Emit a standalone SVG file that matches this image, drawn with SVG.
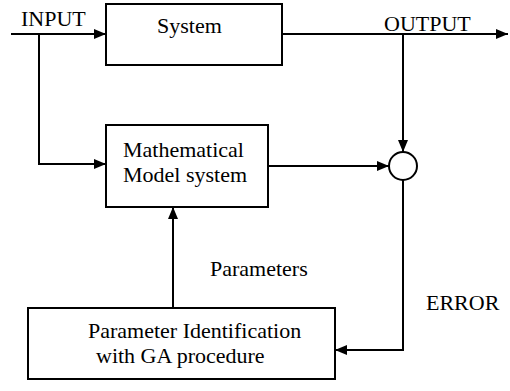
<svg xmlns="http://www.w3.org/2000/svg" width="510" height="391" viewBox="0 0 510 391">
<style>
.box{fill:#fff;stroke:#000;stroke-width:2}
.ln{fill:none;stroke:#000;stroke-width:2}
.t{font-family:'Liberation Serif','Times New Roman',serif;font-size:22px;fill:#000}
</style>
<defs>
<marker id="ah" viewBox="0 0 12 10" refX="12" refY="5" markerWidth="12" markerHeight="10" markerUnits="userSpaceOnUse" orient="auto">
<path d="M0,0 L12,5 L0,10 Z" fill="#000"/>
</marker>
</defs>
<rect width="510" height="391" fill="#fff"/>
<g id="connectors">
<path class="ln" d="M11,34 H106" marker-end="url(#ah)"/>
<path class="ln" d="M39,34 V164 H106" marker-end="url(#ah)"/>
<path class="ln" d="M282,34 H508" marker-end="url(#ah)"/>
<path class="ln" d="M403,34 V152" marker-end="url(#ah)"/>
<path class="ln" d="M268,166 H389" marker-end="url(#ah)"/>
<path class="ln" d="M403,180 V350 H335" marker-end="url(#ah)"/>
<path class="ln" d="M173,308 V207" marker-end="url(#ah)"/>
</g>
<g id="system">
<rect class="box" x="106" y="4" width="176" height="61"/>
<text class="t" x="157" y="33">System</text>
</g>
<g id="model">
<rect class="box" x="106" y="125" width="162" height="82"/>
<text class="t" x="123" y="157">Mathematical</text>
<text class="t" x="123" y="182">Model system</text>
</g>
<g id="sum">
<circle class="box" cx="403" cy="166" r="14"/>
</g>
<g id="ga">
<rect class="box" x="28" y="308" width="307" height="71"/>
<text class="t" x="88" y="338">Parameter Identification</text>
<text class="t" x="96" y="363">with GA procedure</text>
</g>
<g id="labels">
<text class="t" x="21" y="26">INPUT</text>
<text class="t" x="384" y="31">OUTPUT</text>
<text class="t" x="210" y="276">Parameters</text>
<text class="t" x="426" y="310">ERROR</text>
</g>
</svg>
